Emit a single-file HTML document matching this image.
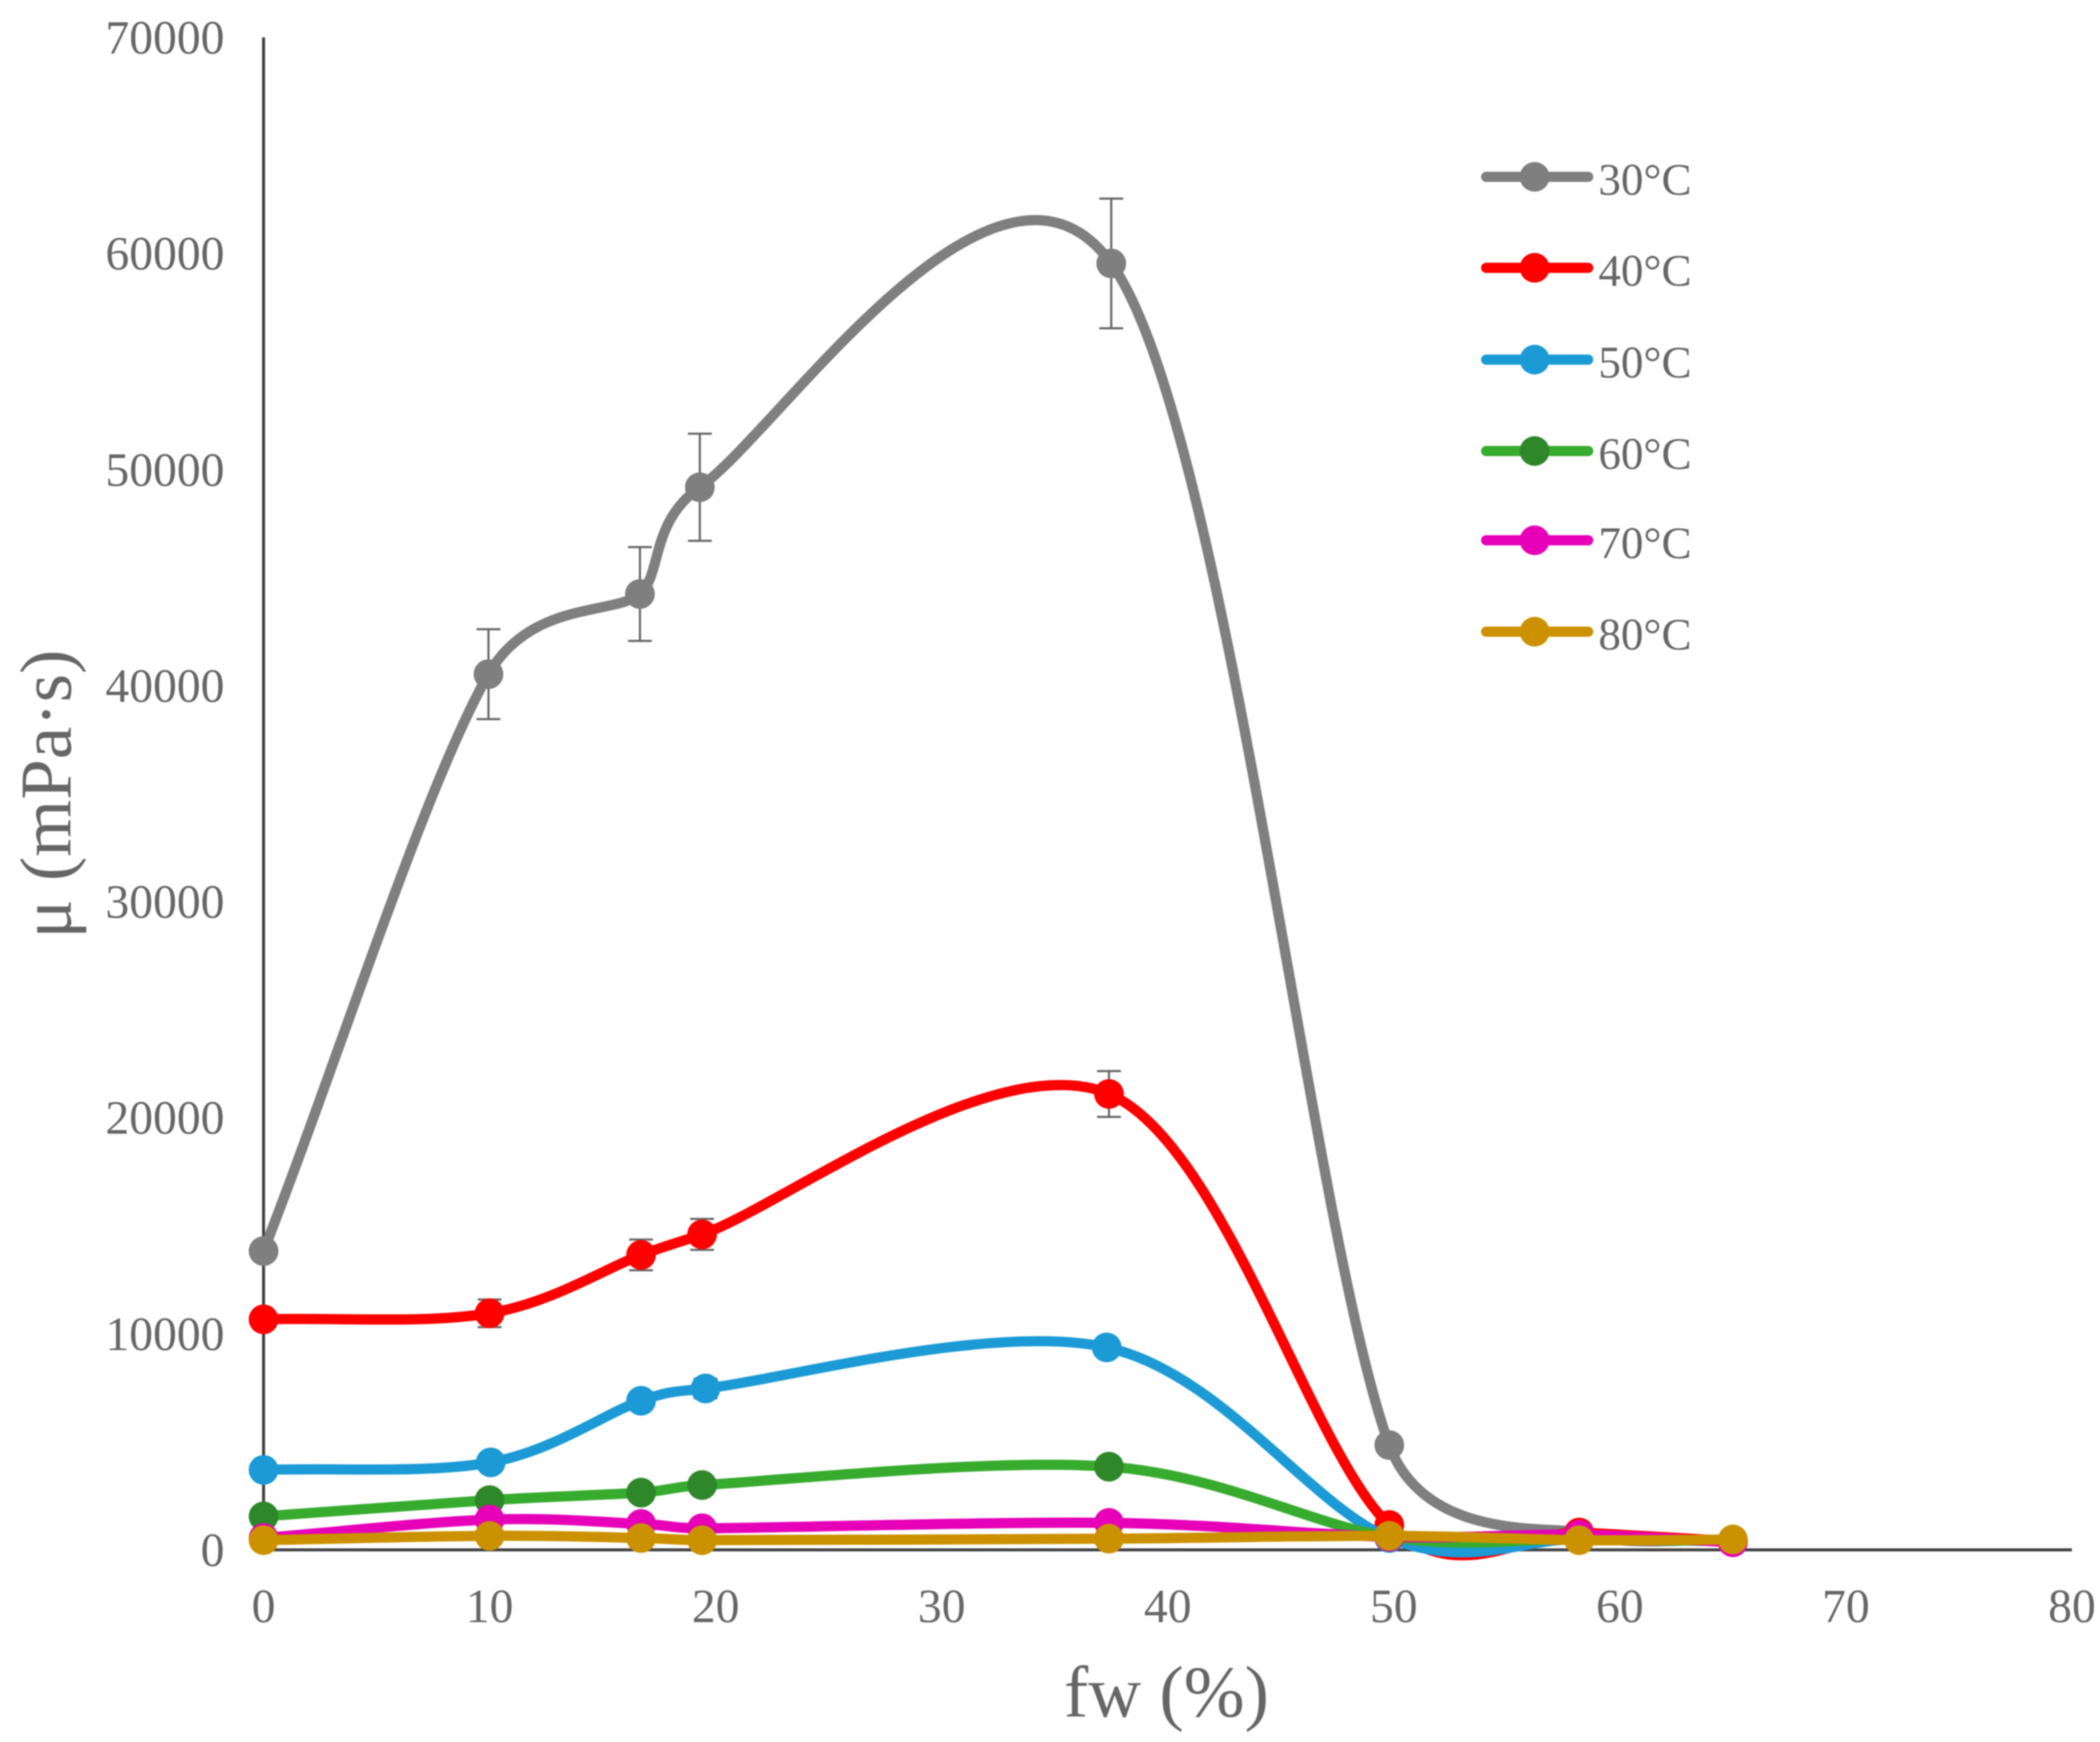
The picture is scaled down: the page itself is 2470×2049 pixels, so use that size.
<!DOCTYPE html>
<html>
<head>
<meta charset="utf-8">
<title>Viscosity vs fw</title>
<style>
html,body{margin:0;padding:0;background:#fff;width:2470px;height:2049px;overflow:hidden}
svg{display:block;filter:blur(0.8px)}
text{font-family:"Liberation Serif","Noto Serif CJK SC",serif;fill:#666}
</style>
</head>
<body>
<svg id="chart" xmlns="http://www.w3.org/2000/svg" width="2470" height="2049" viewBox="0 0 2470 2049">
  <rect x="0" y="0" width="2470" height="2049" fill="#ffffff"/>
  <g id="axes"></g>
  <g id="errors"></g>
  <g id="series"></g>
  <g id="legend"></g>
  <text x="1372" y="2019" text-anchor="middle" font-size="86" fill="#666">fw (%)</text>
  <text transform="translate(83 934) rotate(-90)" text-anchor="middle" font-size="86" fill="#666">μ (mPa·s)</text>
</svg>
<script>
const xValues30 = [0, 9.95, 16.65, 19.3, 37.5, 49.8, 58.2, 65];
const xValues40 = [0, 10, 16.7, 19.4, 37.4, 49.8, 58.2, 65];
const xValues50 = [0, 10.05, 16.7, 19.55, 37.3, 49.8, 58.2, 65];
const xValues60 = [0, 10, 16.7, 19.4, 37.4, 49.8, 58.2, 65];
const xValues70 = [0, 10, 16.7, 19.4, 37.4, 49.8, 58.2, 65];
const xValues80 = [0, 10, 16.7, 19.4, 37.4, 49.8, 58.2, 65];
const yTickLabels = [0, 10000, 20000, 30000, 40000, 50000, 60000, 70000];
const xTickLabels = [0, 10, 20, 30, 40, 50, 60, 70, 80];
const seriesNames = ['30°C', '40°C', '50°C', '60°C', '70°C', '80°C'];
const lineColors = ['#7f7f7f', '#ff0000', '#1b9ad6', '#37ab2e', '#e600b8', '#cc9100'];
const markerColors = ['#7f7f7f', '#ff0000', '#1b9ad6', '#2e8729', '#e600b8', '#cc9100'];
const values30 = [13830, 40530, 44240, 49180, 59540, 4850, 800, 450];
const values40 = [10670, 10950, 13650, 14600, 21100, 1150, 800, 400];
const values50 = [3700, 4050, 6900, 7470, 9370, 550, 500, 400];
const values60 = [1550, 2300, 2650, 3000, 3850, 600, 500, 400];
const values70 = [550, 1400, 1200, 1000, 1250, 600, 700, 350];
const values80 = [450, 650, 550, 450, 520, 650, 450, 480];
const errors30 = [0, 2080, 2170, 2480, 3000, 0, 0, 0];
const errors40 = [300, 640, 710, 715, 1060, 0, 0, 0];
const errors50 = [0, 0, 0, 450, 0, 0, 0, 0];
const allX = [xValues30, xValues40, xValues50, xValues60, xValues70, xValues80];
const allValues = [values30, values40, values50, values60, values70, values80];
const allErrors = [errors30, errors40, errors50];

const NS = 'http://www.w3.org/2000/svg';
const xMin = 0, xMax = 80, yMin = 0, yMax = 70000;
const plotLeft = 310, plotRight = 2437, plotTop = 44, plotBottom = 1823;
function xScale(v) { return plotLeft + (v - xMin) / (xMax - xMin) * (plotRight - plotLeft); }
function yScale(v) { return plotBottom - (v - yMin) / (yMax - yMin) * (plotBottom - plotTop); }
function make(tag, attrs, parent) {
  const el = document.createElementNS(NS, tag);
  for (const k in attrs) el.setAttribute(k, attrs[k]);
  parent.appendChild(el);
  return el;
}
function dist(a, b) { return Math.hypot(a[0] - b[0], a[1] - b[1]) || 1e-6; }
function smoothPath(pts) {
  let d = 'M' + pts[0][0] + ' ' + pts[0][1];
  const n = pts.length;
  for (let i = 0; i < n - 1; i++) {
    const p0 = pts[i - 1] || pts[i], p1 = pts[i], p2 = pts[i + 1], p3 = pts[i + 2] || p2;
    const d02 = dist(p0, p2), d12 = dist(p1, p2), d13 = dist(p1, p3);
    let f1, f2;
    const big1 = d02 / 6 >= d12 / 2, big2 = d13 / 6 >= d12 / 2;
    if (!big1 && !big2) {
      f1 = i !== 0 ? 1 / 6 : 1 / 3;
      f2 = i !== n - 2 ? 1 / 6 : 1 / 3;
    } else if (big1 && big2) {
      f1 = d12 / 2 / d02;
      f2 = d12 / 2 / d13;
    } else if (big1) {
      f1 = d12 / 2 / d02;
      f2 = d12 / 2 / d02;
    } else {
      f1 = d12 / 2 / d13;
      f2 = d12 / 2 / d13;
    }
    const c1x = p1[0] + (p2[0] - p0[0]) * f1, c1y = p1[1] + (p2[1] - p0[1]) * f1;
    const c2x = p2[0] + (p1[0] - p3[0]) * f2, c2y = p2[1] + (p1[1] - p3[1]) * f2;
    d += 'C' + c1x + ' ' + c1y + ' ' + c2x + ' ' + c2y + ' ' + p2[0] + ' ' + p2[1];
  }
  return d;
}

const axes = document.getElementById('axes');
const yAxisLine = make('line', {x1: plotLeft, y1: plotTop, x2: plotLeft, y2: plotBottom, stroke: '#404040', 'stroke-width': 3.5}, axes);


const xAxisLine = make('line', {x1: plotLeft, y1: plotBottom, x2: plotRight, y2: plotBottom, stroke: '#404040', 'stroke-width': 3.5}, axes);



yTickLabels.forEach(function (t) {
  const el = make('text', {x: 264, y: yScale(t) + 19, 'text-anchor': 'end', 'font-size': 56}, axes);
  el.textContent = String(t);
  
  
});
xTickLabels.forEach(function (t) {
  const el = make('text', {x: xScale(t), y: 1908, 'text-anchor': 'middle', 'font-size': 56}, axes);
  el.textContent = String(t);
  
  
});

const errorsGroup = document.getElementById('errors');
allErrors.forEach(function (errs, s) {
  errs.forEach(function (e, i) {
    if (!e) return;
    const x = xScale(allX[s][i]);
    const top = yScale(allValues[s][i] + e), bot = yScale(allValues[s][i] - e);
    const capHalf = 14;
    const bar = make('path', {
      d: 'M' + x + ' ' + top + 'V' + bot + 'M' + (x - capHalf) + ' ' + top + 'H' + (x + capHalf) + 'M' + (x - capHalf) + ' ' + bot + 'H' + (x + capHalf),
      stroke: '#666666', 'stroke-width': 2.5, fill: 'none'
    }, errorsGroup);
    
    
  });
});

const seriesGroup = document.getElementById('series');
allValues.forEach(function (vals, s) {
  const pts = vals.map(function (v, i) { return [xScale(allX[s][i]), yScale(v)]; });
  const g = make('g', {}, seriesGroup);
  
  
  const line = make('path', {d: smoothPath(pts), fill: 'none', stroke: lineColors[s], 'stroke-width': 12, 'stroke-linecap': 'round', 'stroke-linejoin': 'round'}, g);
  
  
  pts.forEach(function (p) {
    const dot = make('circle', {cx: p[0], cy: p[1], r: 17.5, fill: markerColors[s]}, g);
    
    
  });
});

const legendGroup = document.getElementById('legend');
const legendY = [208, 315, 423, 530.5, 635.5, 743];
seriesNames.forEach(function (name, s) {
  const g = make('g', {}, legendGroup);
  
  
  const y = legendY[s];
  const ln = make('line', {x1: 1748, y1: y, x2: 1868, y2: y, stroke: lineColors[s], 'stroke-width': 12, 'stroke-linecap': 'round'}, g);
  
  
  const dot = make('circle', {cx: 1805, cy: y, r: 17.5, fill: markerColors[s]}, g);
  
  
  const label = make('text', {x: 1880, y: y + 21, 'font-size': 53}, g);
  label.textContent = name;
  
  
});
</script>
</body>
</html>
